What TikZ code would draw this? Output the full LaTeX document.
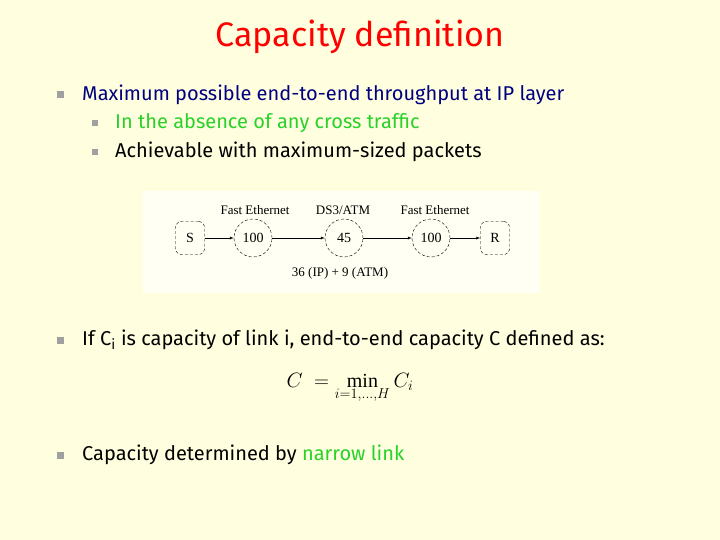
\documentclass[tikz,border=0pt]{standalone}
\usepackage{fontspec}
\setmainfont{Fira Sans}
\newfontfamily\figfont{Liberation Serif}
\definecolor{bg}{RGB}{255,255,224}
\definecolor{navy}{RGB}{0,0,128}
\definecolor{grn}{RGB}{40,210,40}
\definecolor{bul}{RGB}{160,160,160}
\begin{document}
\begin{tikzpicture}[x=1pt,y=-1pt,
  txt/.style={anchor=west,inner sep=0pt,font=\fontsize{20}{24}\selectfont},
  bsq/.style={fill=bul,minimum size=7pt,inner sep=0pt},
  circ/.style={draw,circle,densely dashed,minimum size=38pt,inner sep=0pt,font=\figfont\fontsize{14}{16}\selectfont},
  hostbox/.style={draw,rounded corners=6pt,densely dashed,minimum width=29pt,minimum height=33pt,font=\figfont\fontsize{14}{16}\selectfont},
  lab/.style={font=\figfont\fontsize{13}{15}\selectfont,inner sep=0pt},
  arr/.style={-latex,thin}]
\fill[bg] (0,0) rectangle (720,540);
\useasboundingbox (0,0) rectangle (720,540);
\node[text=red,font=\fontsize{34}{40}\selectfont] (title) at (360,37) {Capacity definition};
\node[bsq] (b1) at (60,95) {};
\node[txt,text=navy] (t1) at (82,95) {Maximum possible end-to-end throughput at IP layer};
\node[bsq,minimum size=6pt] (b2) at (95,123) {};
\node[txt,text=grn] (t2) at (115,123) {In the absence of any cross traffic};
\node[bsq,minimum size=6pt] (b3) at (95,152) {};
\node[txt] (t3) at (115,152) {Achievable with maximum-sized packets};
\fill[white!60!bg] (143,191) rectangle (540,293);
\node[hostbox] (S) at (190,238) {S};
\node[circ] (c1) at (253,238) {100};
\node[circ] (c2) at (344,238) {45};
\node[circ] (c3) at (431,238) {100};
\node[hostbox] (R) at (495,238) {R};
\draw[arr] (S) -- (c1);
\draw[arr] (c1) -- (c2);
\draw[arr] (c2) -- (c3);
\draw[arr] (c3) -- (R);
\node[lab] (l1) at (255,210) {Fast Ethernet};
\node[lab] (l2) at (343,210) {DS3/ATM};
\node[lab] (l3) at (435,210) {Fast Ethernet};
\node[lab] (l4) at (340,273) {36 (IP) + 9 (ATM)};
\node[bsq] (b4) at (60,340) {};
\node[txt] (t4) at (82,340) {If C\textsubscript{i} is capacity of link i, end-to-end capacity C defined as:};
\node[font=\fontsize{20}{24}\selectfont] (eq) at (350,388) {$C\;=\mathop{\hbox{\figfont min}}\limits_{i=1,\ldots,H} C_i$};
\node[bsq] (b5) at (60,455) {};
\node[txt] (t5) at (82,455) {Capacity determined by \textcolor{grn}{narrow link}};
\end{tikzpicture}
\end{document}
